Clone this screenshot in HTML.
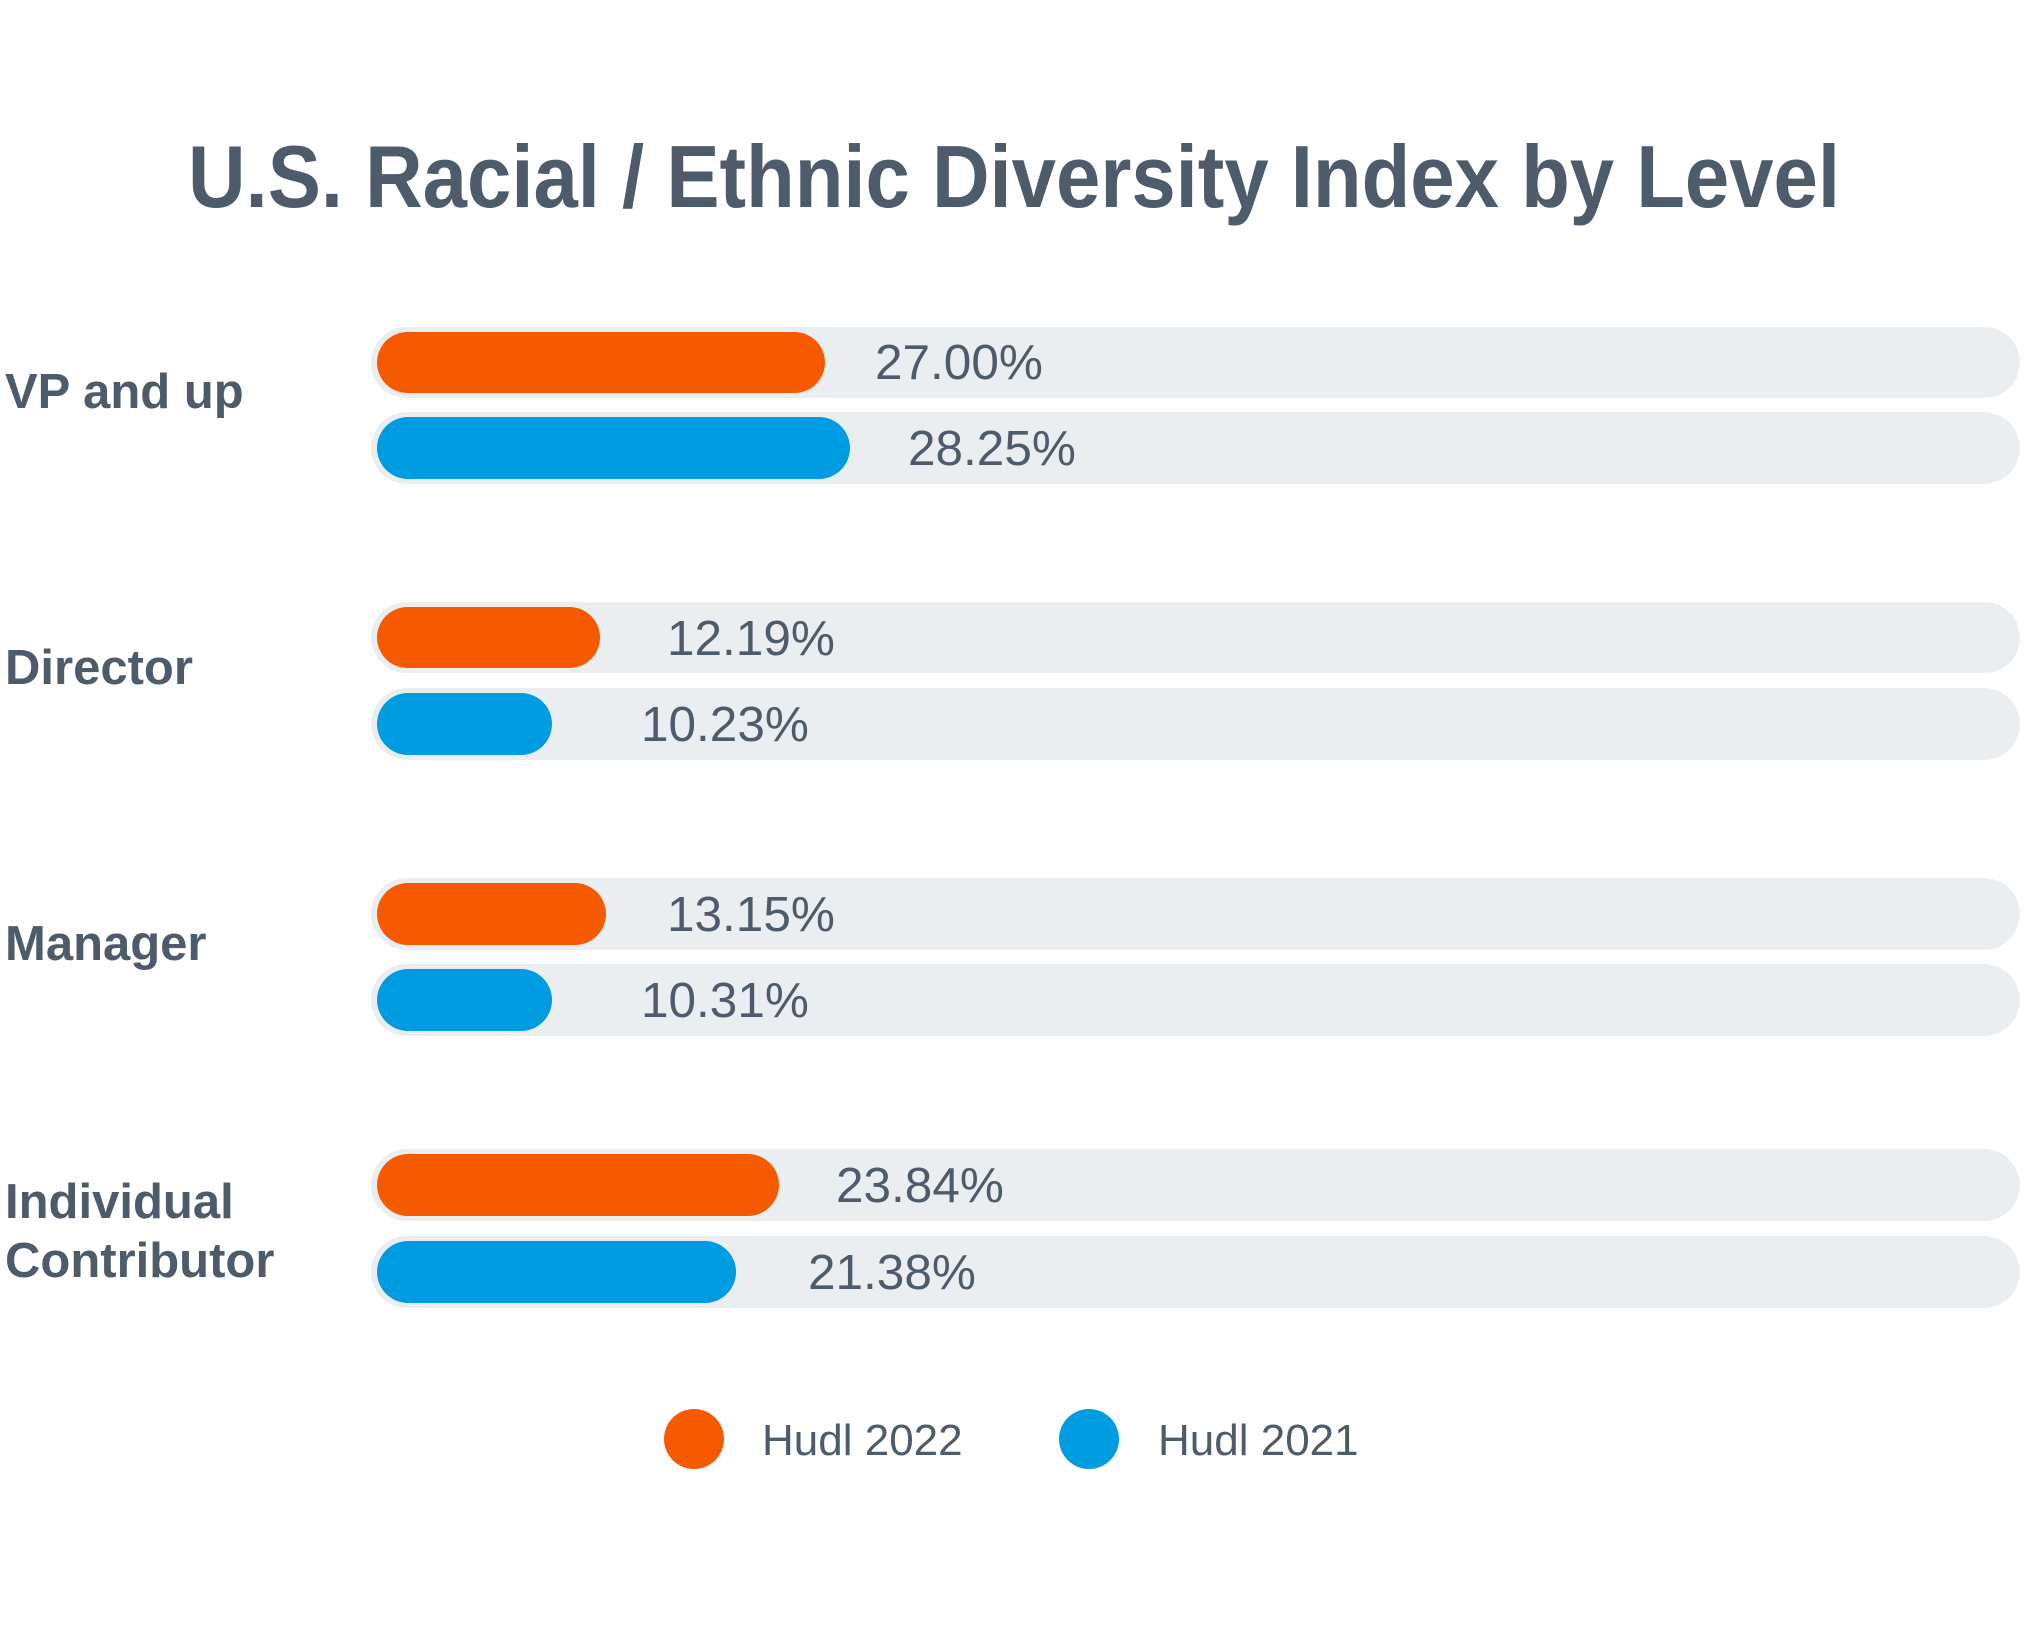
<!DOCTYPE html>
<html><head><meta charset="utf-8"><style>
html,body{margin:0;padding:0;background:#fff;}
svg{display:block;}
text{font-family:"Liberation Sans",Arial,sans-serif;fill:#4d5b6a;}
</style></head><body>
<svg width="2026" height="1640" viewBox="0 0 2026 1640" xmlns="http://www.w3.org/2000/svg">
<text x="1014" y="207" font-size="88" font-weight="bold" text-anchor="middle" textLength="1652" lengthAdjust="spacingAndGlyphs">U.S. Racial / Ethnic Diversity Index by Level</text>
<g fill="#ebeef1">
<rect x="371" y="327" width="1649" height="71" rx="35.5"/>
<rect x="371" y="412" width="1649" height="72" rx="36"/>
<rect x="371" y="602" width="1649" height="71" rx="35.5"/>
<rect x="371" y="688" width="1649" height="72" rx="36"/>
<rect x="371" y="878" width="1649" height="72" rx="36"/>
<rect x="371" y="964" width="1649" height="72" rx="36"/>
<rect x="371" y="1149" width="1649" height="72" rx="36"/>
<rect x="371" y="1236" width="1649" height="72" rx="36"/>
</g>
<g fill="#f55a00">
<rect x="377" y="332" width="448" height="61" rx="30.5"/>
<rect x="377" y="607" width="223" height="61" rx="30.5"/>
<rect x="377" y="883" width="229" height="62" rx="31"/>
<rect x="377" y="1154" width="402" height="62" rx="31"/>
</g>
<g fill="#009ce1">
<rect x="377" y="417" width="473" height="62" rx="31"/>
<rect x="377" y="693" width="175" height="62" rx="31"/>
<rect x="377" y="969" width="175" height="62" rx="31"/>
<rect x="377" y="1241" width="359" height="62" rx="31"/>
</g>
<g font-size="49.5">
<text x="875" y="379">27.00%</text>
<text x="908" y="465">28.25%</text>
<text x="667" y="655">12.19%</text>
<text x="641" y="741">10.23%</text>
<text x="667" y="931">13.15%</text>
<text x="641" y="1017">10.31%</text>
<text x="836" y="1202">23.84%</text>
<text x="808" y="1289">21.38%</text>
</g>
<g font-size="49" font-weight="bold">
<text x="5" y="408">VP and up</text>
<text x="5" y="684">Director</text>
<text x="5" y="960">Manager</text>
<text x="5" y="1218">Individual</text>
<text x="5" y="1277">Contributor</text>
</g>
<circle cx="694" cy="1439" r="30" fill="#f55a00"/>
<circle cx="1089" cy="1439" r="30" fill="#009ce1"/>
<g font-size="44">
<text x="762" y="1455">Hudl 2022</text>
<text x="1158" y="1455">Hudl 2021</text>
</g>
</svg>
</body></html>
